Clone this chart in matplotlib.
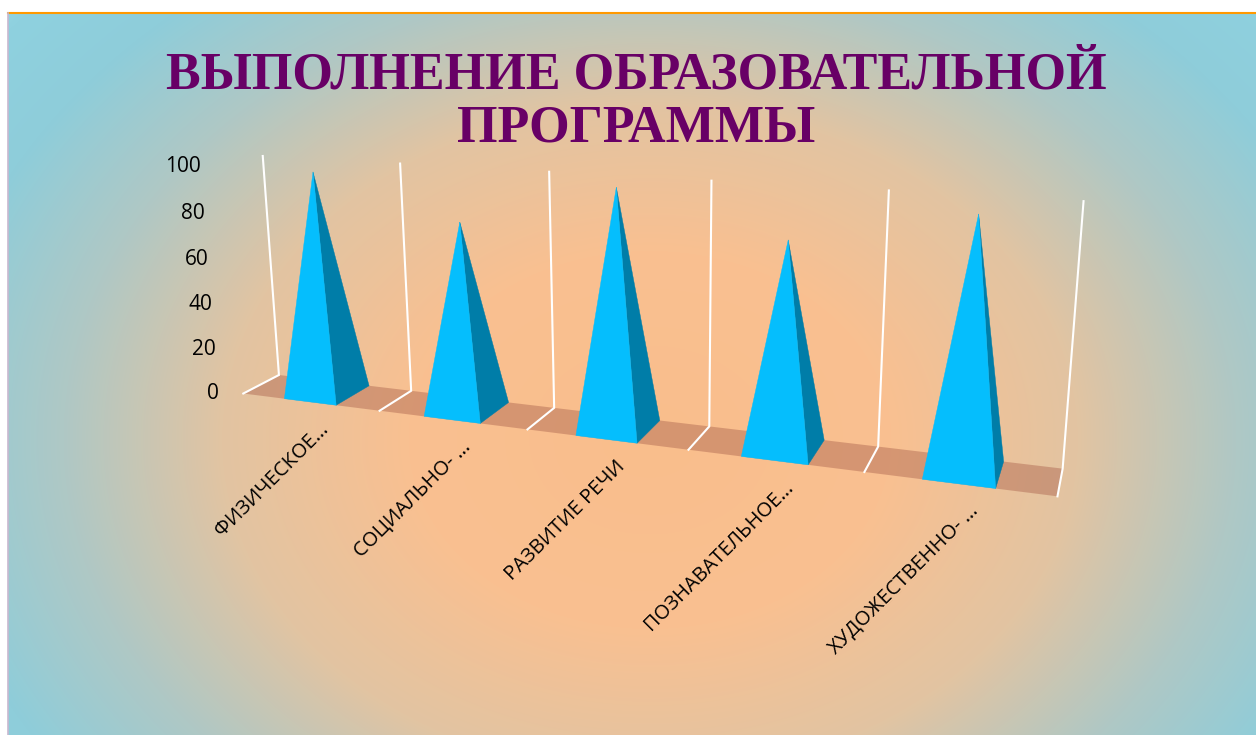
import numpy as np
import matplotlib
matplotlib.use("Agg")
import matplotlib.pyplot as plt
from matplotlib.patches import Polygon

# ---------------- data ----------------
categories = ["ФИЗИЧЕСКОЕ…", "СОЦИАЛЬНО- …", "РАЗВИТИЕ РЕЧИ", "ПОЗНАВАТЕЛЬНОЕ…", "ХУДОЖЕСТВЕННО- …"]
values = [97, 80, 98, 82, 96]
y_ticks = [0, 20, 40, 60, 80, 100]
y_max = 100
title = "ВЫПОЛНЕНИЕ ОБРАЗОВАТЕЛЬНОЙ\nПРОГРАММЫ"

# ---------------- figure ----------------
W, H = 1256, 735
fig = plt.figure(figsize=(W / 100, H / 100), dpi=100)
ax = fig.add_axes([0, 0, 1, 1])
ax.set_xlim(0, W)
ax.set_ylim(H, 0)
ax.axis("off")
fig.patch.set_facecolor("white")

# background radial gradient of the chart area
x0b, y0b = 8, 13
gx = np.arange(x0b, W) + 0.5
gy = np.arange(y0b, H) + 0.5
GX, GY = np.meshgrid(gx, gy)
t = np.sqrt(((GX - 650) / 690) ** 2 + ((GY - 440) / 540) ** 2)
stops_t = [0, 0.35, 0.62, 0.85, 1.05, 1.2, 1.4]
stops_c = [(250, 190, 140), (249, 192, 145), (226, 196, 162), (175, 200, 197),
           (142, 205, 218), (143, 209, 223), (172, 234, 246)]
img = np.stack([np.interp(t, stops_t, [c[k] for c in stops_c]) for k in range(3)], axis=-1) / 255
ax.imshow(img, extent=(x0b, W, H, y0b), zorder=0, interpolation="bilinear", aspect="auto")
ax.plot([x0b, W], [y0b, y0b], color="#FF9900", lw=1.5, zorder=1)
ax.plot([x0b, x0b], [y0b, H], color="#C8B8D0", lw=1.2, zorder=1)

# ---------------- 3D frame projection ----------------
n = len(categories)
# screen placement of the plot box (X: 0..n, Y: 0..1 of y_max, Z: 0 front..1 back)
frame_world = [(0, 0, 0), (n, 0, 0), (0, 0, 1), (n, 0, 1), (0, 1, 1), (n, 1, 1), (0, 1, 0), (n, 1, 0),
               (1, 0, 1), (2, 0, 1), (3, 0, 1), (4, 0, 1),
               (1, 0, 0), (2, 0, 0), (3, 0, 0), (4, 0, 0),
               (1, 1, 1), (2, 1, 1), (3, 1, 1), (4, 1, 1)]
frame_screen = [(243, 393), (1057, 495), (279, 375), (1061, 470), (263, 155), (1083, 200), (225, 168), (1080, 217),
                (412, 390), (554, 408), (709, 428), (880, 447),
                (379, 410), (527, 431), (688, 449), (866, 471),
                (400, 163), (549, 172), (711, 181), (889, 190)]
A = []
b = []
for (X, Y, Z), (u, v) in zip(frame_world, frame_screen):
    A.append([X, Y, Z, 1, 0, 0, 0, 0, -u * X, -u * Y, -u * Z]); b.append(u)
    A.append([0, 0, 0, 0, X, Y, Z, 1, -v * X, -v * Y, -v * Z]); b.append(v)
p = np.linalg.lstsq(np.array(A, float), np.array(b, float), rcond=None)[0]
P = np.append(p, 1).reshape(3, 4)


def proj(X, Y, Z):
    h = P @ np.array([X, Y, Z, 1.0])
    return h[0] / h[2], h[1] / h[2]


# floor
floor = [proj(0, 0, 0), proj(n, 0, 0), proj(n, 0, 1), proj(0, 0, 1)]
ax.add_patch(Polygon(floor, closed=True, facecolor=(171 / 255, 99 / 255, 78 / 255), alpha=0.45,
                     edgecolor="none", zorder=2))

# gridlines (floor depth line + back wall vertical line at each category boundary)
for k in range(n + 1):
    pts = [proj(k, 0, 0), proj(k, 0, 1), proj(k, 1, 1)]
    ax.plot([q[0] for q in pts], [q[1] for q in pts], color="white", lw=1.5,
            solid_joinstyle="miter", zorder=3)

# pyramids
hw = 0.19
face_colors = {"front": "#05BEFD", "right": "#007DA8", "back": "#0090C0", "left": "#00A5DC"}
for i, val in enumerate(values):
    c = i + 0.5
    yv = val / y_max
    A_ = proj(c - hw, 0, 0)
    B_ = proj(c + hw, 0, 0)
    C_ = proj(c + hw, 0, 1)
    D_ = proj(c - hw, 0, 1)
    T_ = proj(c, yv, 0.5)
    faces = [("back", (C_, D_, T_)), ("left", (D_, A_, T_)), ("right", (B_, C_, T_)), ("front", (A_, B_, T_))]
    for name, (p1, p2, p3) in faces:
        area = (p2[0] - p1[0]) * (p3[1] - p1[1]) - (p3[0] - p1[0]) * (p2[1] - p1[1])
        if area < 0:
            ax.add_patch(Polygon([p1, p2, p3], closed=True, facecolor=face_colors[name],
                                 edgecolor=face_colors[name], lw=0.3, zorder=4))

# value axis labels
for tv in y_ticks:
    x, y = proj(0, tv / y_max, 0)
    ax.text(x - 24, y, str(tv), ha="right", va="center", fontsize=15,
            family=["Open Sans", "DejaVu Sans"], color="black", zorder=5)

# category labels
for i, lab in enumerate(categories):
    x, y = proj(i + 0.5, 0, 0)
    ax.text(x + 16, y + 24, lab, ha="right", va="center", rotation=45, rotation_mode="anchor",
            fontsize=14.5, family=["Open Sans", "DejaVu Sans"], color="black", zorder=5)

# title
ax.text(636, 102, title, ha="center", va="center", fontsize=37.5, fontweight="bold",
        family=["Liberation Serif", "DejaVu Serif"], color="#680066", linespacing=1.14, zorder=5)

fig.savefig("out.png", dpi=100)
